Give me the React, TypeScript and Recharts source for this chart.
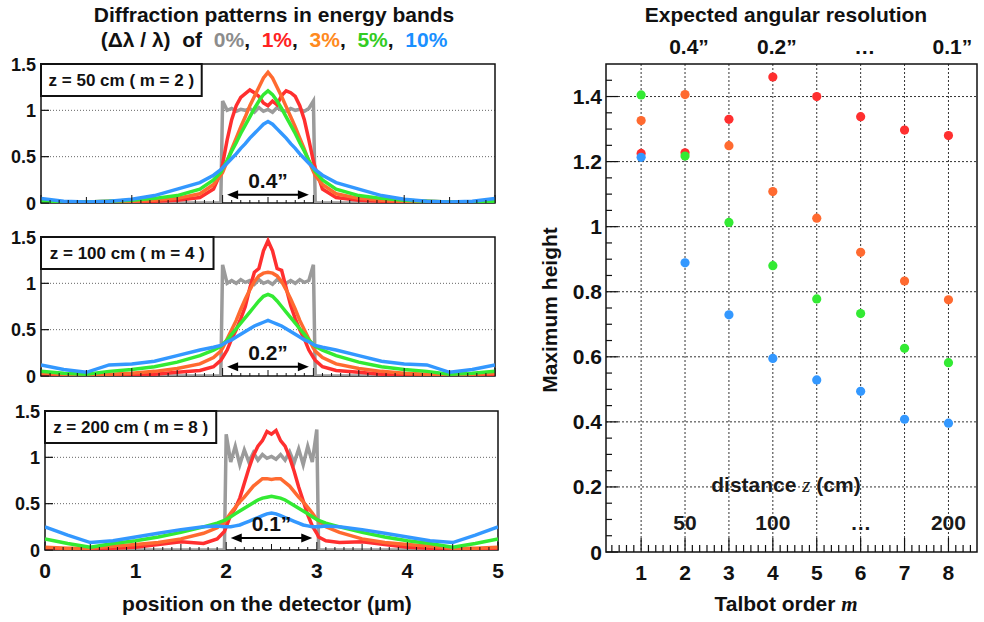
import React from 'react';
import {
  LineChart,
  Line,
  XAxis,
  YAxis,
  CartesianGrid,
  ReferenceArea,
  ReferenceLine,
  ReferenceDot,
  ScatterChart,
  Scatter,
} from 'recharts';

const FONT = '"Liberation Sans", Arial, Helvetica, sans-serif';

// position on the detector (µm), shared by all three panels
const positions = [
  0, 0.25, 0.5, 0.75, 1, 1.25, 1.5, 1.75, 1.9, 1.98,
  2, 2.05, 2.1, 2.15, 2.2, 2.25, 2.3, 2.35, 2.4, 2.45,
  2.5, 2.55, 2.6, 2.65, 2.7, 2.75, 2.8, 2.85, 2.9, 2.95,
  3, 3.02, 3.1, 3.25, 3.5, 3.75, 4, 4.25, 4.5, 4.75, 5,
];

// z = 50 cm (m = 2)
const gray50 = [
  0, 0, 0, 0, 0, 0, 0, 0, 0, 0,
  1.1, 1.0, 1.02, 0.99, 1.01, 1.0, 1.02, 0.98, 1.03, 0.99,
  1.01, 0.98, 1.03, 1.0, 0.99, 1.02, 1.0, 1.01, 0.99, 1.02,
  1.1, 0, 0, 0, 0, 0, 0, 0, 0, 0, 0,
];
const red50 = [
  0.01, 0, 0.01, 0, 0.01, 0.02, 0.03, 0.06, 0.15, 0.33,
  0.42, 0.68, 0.9, 1.05, 1.14, 1.18, 1.22, 1.19, 1.15, 1.08,
  1.05, 1.1, 1.06, 1.16, 1.21, 1.19, 1.15, 1.05, 0.9, 0.68,
  0.45, 0.38, 0.15, 0.06, 0.03, 0.02, 0.01, 0, 0.01, 0, 0.01,
];
const orange50 = [
  0.01, 0.01, 0.01, 0.02, 0.02, 0.03, 0.05, 0.1, 0.2, 0.3,
  0.33, 0.45, 0.58, 0.7, 0.82, 0.93, 1.05, 1.15, 1.25, 1.35,
  1.41, 1.35, 1.25, 1.15, 1.04, 0.93, 0.82, 0.7, 0.58, 0.45,
  0.34, 0.3, 0.2, 0.1, 0.05, 0.03, 0.02, 0.02, 0.01, 0.01, 0.01,
];
const green50 = [
  0.02, 0.01, 0.01, 0.02, 0.03, 0.05, 0.08, 0.15, 0.25, 0.33,
  0.37, 0.46, 0.56, 0.65, 0.75, 0.84, 0.93, 1.02, 1.1, 1.17,
  1.21, 1.17, 1.1, 1.02, 0.93, 0.84, 0.75, 0.65, 0.56, 0.46,
  0.37, 0.34, 0.25, 0.15, 0.08, 0.05, 0.03, 0.02, 0.01, 0.01, 0.02,
];
const blue50 = [
  0.05, 0.02, 0.01, 0.02, 0.04, 0.08, 0.15, 0.22, 0.3, 0.36,
  0.38, 0.43, 0.48, 0.53, 0.59, 0.64, 0.7, 0.75, 0.8, 0.85,
  0.88, 0.85, 0.8, 0.75, 0.7, 0.64, 0.59, 0.53, 0.48, 0.43,
  0.38, 0.36, 0.3, 0.22, 0.15, 0.08, 0.04, 0.02, 0.01, 0.02, 0.05,
];

// z = 100 cm (m = 4)
const gray100 = [
  0, 0, 0, 0, 0, 0, 0, 0, 0, 0,
  1.2, 1.0, 1.03, 1.0, 1.04, 1.01, 1.03, 0.99, 1.04, 1.0,
  1.02, 0.99, 1.04, 1.01, 1.0, 1.03, 1.0, 1.04, 1.01, 1.03,
  1.2, 0, 0, 0, 0, 0, 0, 0, 0, 0, 0,
];
const red100 = [
  0.01, 0, 0, 0.01, 0.01, 0.02, 0.04, 0.06, 0.1, 0.17,
  0.2, 0.28, 0.4, 0.5, 0.62, 0.75, 0.95, 1.12, 1.16, 1.35,
  1.46, 1.35, 1.16, 1.14, 0.95, 0.76, 0.62, 0.5, 0.4, 0.28,
  0.2, 0.17, 0.1, 0.06, 0.04, 0.02, 0.01, 0.01, 0, 0, 0.01,
];
const orange100 = [
  0.03, 0.02, 0.01, 0.02, 0.03, 0.05, 0.08, 0.13, 0.2, 0.27,
  0.3, 0.4, 0.5, 0.6, 0.72, 0.83, 0.93, 1.02, 1.08, 1.11,
  1.12, 1.11, 1.08, 1.02, 0.93, 0.83, 0.72, 0.6, 0.5, 0.4,
  0.3, 0.27, 0.2, 0.13, 0.08, 0.05, 0.03, 0.02, 0.01, 0.02, 0.03,
];
const green100 = [
  0.05, 0.03, 0.02, 0.05, 0.07, 0.1, 0.15, 0.22, 0.28, 0.32,
  0.34, 0.39, 0.45, 0.51, 0.57, 0.63, 0.69, 0.75, 0.81, 0.86,
  0.88, 0.86, 0.81, 0.75, 0.69, 0.63, 0.57, 0.51, 0.45, 0.39,
  0.34, 0.32, 0.28, 0.22, 0.15, 0.1, 0.07, 0.05, 0.02, 0.03, 0.05,
];
const blue100 = [
  0.12, 0.07, 0.04, 0.12, 0.13, 0.16, 0.22, 0.28, 0.31, 0.33,
  0.34, 0.37, 0.39, 0.42, 0.45, 0.48, 0.51, 0.54, 0.56, 0.58,
  0.6, 0.58, 0.56, 0.54, 0.51, 0.48, 0.45, 0.42, 0.39, 0.37,
  0.34, 0.33, 0.31, 0.28, 0.22, 0.16, 0.13, 0.12, 0.04, 0.07, 0.12,
];

// z = 200 cm (m = 8)
const gray200 = [
  0, 0, 0, 0, 0, 0, 0, 0, 0, 0,
  1.25, 0.95, 1.12, 0.92, 1.08, 0.95, 1.05, 0.97, 1.03, 0.99,
  1.01, 0.98, 1.03, 0.97, 1.06, 0.94, 1.09, 0.92, 1.12, 0.95,
  1.3, 0, 0, 0, 0, 0, 0, 0, 0, 0, 0,
];
const red200 = [
  0.02, 0.01, 0.01, 0.02, 0.03, 0.06, 0.09, 0.07, 0.12, 0.2,
  0.25, 0.38, 0.45, 0.56, 0.72, 0.88, 1.02, 1.12, 1.18, 1.28,
  1.25, 1.29, 1.18, 1.12, 1.0, 0.85, 0.68, 0.53, 0.38, 0.26,
  0.18, 0.14, 0.1, 0.08, 0.09, 0.06, 0.03, 0.02, 0.01, 0.01, 0.02,
];
const orange200 = [
  0.03, 0.02, 0.02, 0.04, 0.06, 0.08, 0.12, 0.18, 0.24, 0.3,
  0.33, 0.4, 0.46, 0.52, 0.57, 0.63, 0.69, 0.73, 0.77, 0.77,
  0.76, 0.77, 0.77, 0.73, 0.69, 0.63, 0.57, 0.52, 0.46, 0.4,
  0.33, 0.31, 0.25, 0.19, 0.12, 0.08, 0.06, 0.04, 0.02, 0.02, 0.03,
];
const green200 = [
  0.12, 0.07, 0.03, 0.07, 0.1, 0.14, 0.19, 0.25, 0.29, 0.32,
  0.33, 0.36, 0.39, 0.42, 0.45, 0.48, 0.51, 0.54, 0.56, 0.57,
  0.58, 0.57, 0.56, 0.54, 0.51, 0.48, 0.45, 0.42, 0.39, 0.36,
  0.33, 0.32, 0.29, 0.25, 0.19, 0.14, 0.1, 0.07, 0.03, 0.07, 0.12,
];
const blue200 = [
  0.25, 0.16, 0.08, 0.1, 0.14, 0.18, 0.22, 0.25, 0.26, 0.25,
  0.25, 0.25, 0.26, 0.27, 0.29, 0.31, 0.33, 0.35, 0.37, 0.39,
  0.4, 0.39, 0.37, 0.35, 0.33, 0.31, 0.29, 0.27, 0.26, 0.25,
  0.25, 0.25, 0.26, 0.25, 0.22, 0.18, 0.14, 0.1, 0.08, 0.16, 0.25,
];

// maximum height vs Talbot order
const talbotOrders = [1, 2, 3, 4, 5, 6, 7, 8];
const peak1 = [1.225, 1.227, 1.33, 1.46, 1.4, 1.338, 1.297, 1.28];
const peak3 = [1.326, 1.406, 1.249, 1.108, 1.026, 0.921, 0.833, 0.775];
const peak5 = [1.405, 1.217, 1.013, 0.88, 0.778, 0.733, 0.626, 0.582];
const peak10 = [1.213, 0.889, 0.729, 0.595, 0.529, 0.494, 0.408, 0.396];

const angleTicks = [2, 4, 6, 8];
const angleLabels = ['0.4”', '0.2”', '…', '0.1”'];
const distanceLabels = ['50', '100', '…', '200'];

const panelYTicks = [0, 0.5, 1, 1.5];
const detectorTicks = Array.from({ length: 51 }, (_, i) => i / 10);
const heightTicks = Array.from({ length: 30 }, (_, i) => i * 0.05);
const orderTicks = Array.from({ length: 50 }, (_, i) => 1 / 3 + i / 6);

const bands = [
  { key: 'gray', color: '#9b9b9b', width: 3.5 },
  { key: 'red', color: '#ff2f2f', width: 3.5 },
  { key: 'orange', color: '#ff6a30', width: 3.5 },
  { key: 'green', color: '#33ea33', width: 3.5 },
  { key: 'blue', color: '#3398ff', width: 3.5 },
];

const buildRows = (g: number[], r: number[], o: number[], gr: number[], b: number[]) =>
  positions.map((x, i) => ({ x, gray: g[i], red: r[i], orange: o[i], green: gr[i], blue: b[i] }));

const panels = [
  { rows: buildRows(gray50, red50, orange50, green50, blue50), top: 52, yWidth: 41, right: 20, xh: 12,
    box: 'z = 50 cm ( m = 2 )', boxRight: 1.77, res: '0.4”', arrowY: 0.09, labels: false },
  { rows: buildRows(gray100, red100, orange100, green100, blue100), top: 225, yWidth: 41, right: 20, xh: 12,
    box: 'z = 100 cm ( m = 4 )', boxRight: 1.9, res: '0.2”', arrowY: 0.1, labels: false },
  { rows: buildRows(gray200, red200, orange200, green200, blue200), top: 399, yWidth: 45, right: 17, xh: 40,
    box: 'z = 200 cm ( m = 8 )', boxRight: 1.89, res: '0.1”', arrowY: 0.13, labels: true },
];

const isWhole = (v: number, step: number) => Math.abs(v / step - Math.round(v / step)) < 1e-6;

const leftYTick = (p: any) => (
  <g>
    <line x1={p.x} y1={p.y} x2={p.x + 8} y2={p.y} stroke="#111" strokeWidth={1.2} />
    <text x={p.x - 5} y={p.y + 6.5} textAnchor="end" fontSize={18} fontWeight="bold" fill="#111">
      {String(p.payload.value)}
    </text>
  </g>
);

const detectorTick = (labels: boolean) => (p: any) => {
  const v = p.payload.value;
  const len = isWhole(v, 1) ? 8 : isWhole(v, 0.5) ? 6 : 3;
  return (
    <g>
      <line x1={p.x} y1={p.y} x2={p.x} y2={p.y - len} stroke="#111" strokeWidth={1} />
      {labels && isWhole(v, 1) && (
        <text x={p.x} y={p.y + 28} textAnchor="middle" fontSize={21} fontWeight="bold" fill="#111">
          {String(Math.round(v))}
        </text>
      )}
    </g>
  );
};

const arrowShape = (text: string) => (p: any) => {
  const { x1, y1, x2 } = p;
  return (
    <g>
      <line x1={x1 + 8} y1={y1} x2={x2 - 8} y2={y1} stroke="#000" strokeWidth={2} />
      <path d={`M${x1},${y1}L${x1 + 11},${y1 - 4.5}L${x1 + 11},${y1 + 4.5}Z`} fill="#000" />
      <path d={`M${x2},${y1}L${x2 - 11},${y1 - 4.5}L${x2 - 11},${y1 + 4.5}Z`} fill="#000" />
      <text x={(x1 + x2) / 2} y={y1 - 6.5} textAnchor="middle" fontSize={21} fontWeight="bold" fill="#111">
        {text}
      </text>
    </g>
  );
};

const rightYTick = (p: any) => {
  const v = p.payload.value;
  const major = isWhole(v, 0.2);
  return (
    <g>
      <line x1={p.x} y1={p.y} x2={p.x + (major ? 12 : 6)} y2={p.y} stroke="#111" strokeWidth={1.2} />
      {major && (
        <text x={p.x - 4} y={p.y + 7.5} textAnchor="end" fontSize={21} fontWeight="bold" fill="#111">
          {String(Math.round(v * 10) / 10)}
        </text>
      )}
    </g>
  );
};

const orderTick = (p: any) => {
  const v = p.payload.value;
  const major = isWhole(v, 1);
  return (
    <g>
      <line x1={p.x} y1={p.y} x2={p.x} y2={p.y - (major ? 14 : 7)} stroke="#111" strokeWidth={1.2} />
      {major && (
        <text x={p.x} y={p.y + 28} textAnchor="middle" fontSize={21} fontWeight="bold" fill="#111">
          {String(Math.round(v))}
        </text>
      )}
    </g>
  );
};

const angleTick = (p: any) => {
  const i = angleTicks.indexOf(p.payload.value);
  return (
    <text x={p.x + 4} y={p.y - 10} textAnchor="middle" fontSize={21} fontWeight="bold" fill="#111">
      {angleLabels[i]}
    </text>
  );
};

const Panel = ({ cfg }: { cfg: (typeof panels)[number] }) => (
  <div style={{ position: 'absolute', left: 0, top: cfg.top }}>
    <LineChart
      width={515}
      height={12 + 139 + cfg.xh}
      data={cfg.rows}
      margin={{ top: 12, right: cfg.right, bottom: 0, left: 0 }}
    >
      <CartesianGrid vertical={false} horizontalValues={[0.5, 1]} stroke="#666" strokeDasharray="1 2" />
      <XAxis
        dataKey="x"
        type="number"
        domain={[0, 5]}
        ticks={detectorTicks}
        interval={0}
        tickSize={0}
        tickMargin={0}
        axisLine={false}
        tickLine={false}
        height={cfg.xh}
        tick={detectorTick(cfg.labels)}
        allowDataOverflow
      />
      <YAxis
        type="number"
        domain={[0, 1.5]}
        ticks={panelYTicks}
        interval={0}
        width={cfg.yWidth}
        tickSize={0}
        tickMargin={0}
        axisLine={false}
        tickLine={false}
        tick={leftYTick}
        allowDataOverflow
      />
      {bands.map((b) => (
        <Line
          key={b.key}
          type="linear"
          dataKey={b.key}
          stroke={b.color}
          strokeWidth={b.width}
          dot={false}
          isAnimationActive={false}
        />
      ))}
      <ReferenceArea x1={0} x2={5} y1={0} y2={1.5} fill="none" stroke="#111" strokeWidth={1.5} />
      <ReferenceArea
        x1={0}
        x2={cfg.boxRight}
        y1={1.155}
        y2={1.5}
        fill="#fff"
        fillOpacity={1}
        stroke="#111"
        strokeWidth={2}
        label={{ value: cfg.box, position: 'center', fill: '#111', fontSize: 17, fontWeight: 'bold' }}
      />
      <ReferenceLine
        segment={[
          { x: 2.05, y: cfg.arrowY },
          { x: 2.95, y: cfg.arrowY },
        ]}
        shape={arrowShape(cfg.res)}
      />
    </LineChart>
  </div>
);

const scatterSets = [
  { name: '1%', color: '#ff2f2f', values: peak1 },
  { name: '3%', color: '#ff6a30', values: peak3 },
  { name: '5%', color: '#33ea33', values: peak5 },
  { name: '10%', color: '#3398ff', values: peak10 },
];

const App = () => (
  <div
    style={{
      position: 'absolute',
      left: 0,
      top: 0,
      width: 984,
      height: 622,
      background: '#fff',
      fontFamily: FONT,
      color: '#111',
      overflow: 'hidden',
    }}
  >
    <div
      style={{
        position: 'absolute',
        left: 0,
        width: 548,
        top: 2,
        textAlign: 'center',
        fontSize: 21,
        fontWeight: 'bold',
        lineHeight: '25px',
        whiteSpace: 'nowrap',
      }}
    >
      <div>Diffraction patterns in energy bands</div>
      <div>
        (Δλ / λ)&nbsp; of&nbsp; <span style={{ color: '#8c8c8c' }}>0%</span>,&nbsp;{' '}
        <span style={{ color: '#ff2222' }}>1%</span>,&nbsp; <span style={{ color: '#ff8a1e' }}>3%</span>,&nbsp;{' '}
        <span style={{ color: '#33cc22' }}>5%</span>,&nbsp; <span style={{ color: '#1a90ff' }}>10%</span>
      </div>
    </div>

    {panels.map((cfg) => (
      <Panel key={cfg.box} cfg={cfg} />
    ))}

    <div
      style={{
        position: 'absolute',
        left: 67,
        width: 400,
        top: 591,
        textAlign: 'center',
        fontSize: 21,
        fontWeight: 'bold',
        lineHeight: '25px',
      }}
    >
      position on the detector (µm)
    </div>

    <div
      style={{
        position: 'absolute',
        left: 600,
        width: 372,
        top: 2,
        textAlign: 'center',
        fontSize: 21,
        fontWeight: 'bold',
        lineHeight: '25px',
      }}
    >
      Expected angular resolution
    </div>

    <div style={{ position: 'absolute', left: 530, top: 0 }}>
      <ScatterChart width={454} height={622} margin={{ top: 20, right: 7, bottom: 0, left: 0 }}>
        <CartesianGrid
          xAxisId="m"
          horizontalValues={[0.2, 0.4, 0.6, 0.8, 1, 1.2, 1.4]}
          verticalValues={talbotOrders}
          stroke="#333"
          strokeDasharray="2 2"
        />
        <XAxis
          xAxisId="ang"
          orientation="top"
          dataKey="m"
          type="number"
          domain={[0.2, 8.65]}
          ticks={angleTicks}
          interval={0}
          height={44}
          tickSize={0}
          tickMargin={0}
          axisLine={false}
          tickLine={false}
          tick={angleTick}
          allowDataOverflow
        />
        <XAxis
          xAxisId="m"
          dataKey="m"
          type="number"
          domain={[0.2, 8.65]}
          ticks={orderTicks}
          interval={0}
          height={70}
          tickSize={0}
          tickMargin={0}
          axisLine={false}
          tickLine={false}
          tick={orderTick}
          allowDataOverflow
        />
        <YAxis
          dataKey="v"
          type="number"
          domain={[0, 1.5]}
          ticks={heightTicks}
          interval={0}
          width={76}
          tickSize={0}
          tickMargin={0}
          axisLine={false}
          tickLine={false}
          tick={rightYTick}
          allowDataOverflow
        />
        <ReferenceArea xAxisId="m" x1={0.2} x2={8.65} y1={0} y2={1.5} fill="none" stroke="#111" strokeWidth={1.5} />
        {angleTicks.map((m, i) => (
          <ReferenceDot
            key={m}
            xAxisId="m"
            x={m}
            y={0.092}
            r={0}
            fill="none"
            stroke="none"
            label={{ value: distanceLabels[i], position: 'center', fill: '#1a1a1a', fontSize: 21, fontWeight: 'bold' }}
          />
        ))}
        {scatterSets.map((s) => (
          <Scatter
            key={s.name}
            name={s.name}
            xAxisId="m"
            data={talbotOrders.map((m, i) => ({ m, v: s.values[i] }))}
            fill={s.color}
            isAnimationActive={false}
            shape={(p: any) => <circle cx={p.cx} cy={p.cy} r={4.6} fill={s.color} />}
          />
        ))}
      </ScatterChart>
    </div>

    <div
      style={{
        position: 'absolute',
        left: 636,
        width: 300,
        top: 472,
        textAlign: 'center',
        fontSize: 21,
        fontWeight: 'bold',
        lineHeight: '25px',
        color: '#1a1a1a',
      }}
    >
      distance <span style={{ fontFamily: '"Liberation Serif", serif', fontStyle: 'italic', fontWeight: 'normal' }}>z</span> (cm)
    </div>

    <div
      style={{
        position: 'absolute',
        left: 549,
        top: 310,
        transform: 'translate(-50%, -50%) rotate(-90deg)',
        fontSize: 21,
        fontWeight: 'bold',
        whiteSpace: 'nowrap',
        lineHeight: '25px',
      }}
    >
      Maximum height
    </div>

    <div
      style={{
        position: 'absolute',
        left: 636,
        width: 300,
        top: 591,
        textAlign: 'center',
        fontSize: 21,
        fontWeight: 'bold',
        lineHeight: '25px',
      }}
    >
      Talbot order <span style={{ fontFamily: '"Liberation Serif", serif', fontStyle: 'italic' }}>m</span>
    </div>
  </div>
);

export default App;
